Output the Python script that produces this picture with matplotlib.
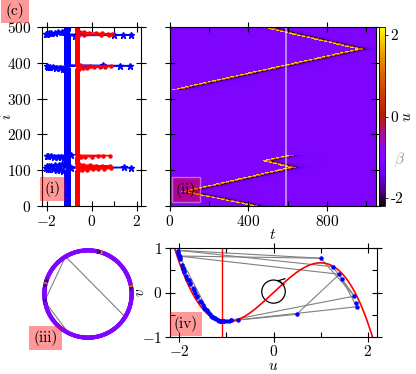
import numpy as np
import matplotlib
matplotlib.use('Agg')
import matplotlib.pyplot as plt
from matplotlib.ticker import MultipleLocator
from matplotlib.collections import LineCollection
from matplotlib.patches import Ellipse

plt.rcParams['mathtext.fontset'] = 'cm'
plt.rcParams['font.family'] = 'serif'
plt.rcParams['font.serif'] = ['cmr10', 'DejaVu Serif']
plt.rcParams['axes.formatter.use_mathtext'] = True
plt.rcParams['font.size'] = 11
plt.rcParams['axes.linewidth'] = 0.8

# ---- data ----
n_osc = 500
u_rest = -1.1
v_rest = -0.65
t_snap = 590

# oscillators away from rest at the snapshot: index, u, v
osc_idx = [476, 477, 478, 479, 480, 481, 482, 483, 484, 485, 486, 487, 488,
           393, 392, 391, 390, 389, 388, 387, 386, 385, 384, 383,
           142, 141, 140, 139, 138, 137, 136, 135,
           109, 108, 107, 106, 105, 104, 103, 102, 101, 100, 99,
           110, 111, 112, 113, 114, 115, 116, 117]
osc_u = [-0.75, 1.77, 1.40, 1.00, -2.03, -1.98, -1.90, -1.78, -1.62, -1.48, -1.33, -1.22, -1.15,
         0.49, 1.72, 1.26, -2.00, -1.95, -1.86, -1.72, -1.57, -1.42, -1.28, -1.18,
         -0.90, -1.99, -1.92, -1.80, -1.66, -1.50, -1.36, -1.24,
         -1.02, 1.45, 1.76, -0.90, -2.02, -1.93, -1.83, -1.70, -1.55, -1.40, -1.26,
         -0.95, -2.00, -1.91, -1.78, -1.62, -1.46, -1.30, -1.19]
osc_v = [-0.61, -0.32, 0.41, 0.77, 0.93, 0.75, 0.45, 0.20, -0.10, -0.35, -0.52, -0.60, -0.64,
         -0.49, -0.08, 0.58, 0.85, 0.62, 0.38, 0.10, -0.18, -0.40, -0.56, -0.62,
         -0.62, 0.80, 0.52, 0.28, 0.00, -0.28, -0.48, -0.58,
         -0.65, 0.30, -0.24, -0.62, 0.88, 0.55, 0.30, 0.05, -0.22, -0.44, -0.58,
         -0.63, 0.83, 0.48, 0.22, -0.08, -0.36, -0.54, -0.62]

# pulse trajectories in the space-time plot: (t0, i0) -> (t1, i1)
pulse_t0 = [0, 458, 40, 40, 466, 466]
pulse_i0 = [324, 500, 42, 38, 126, 126]
pulse_t1 = [950, 950, 420, 600, 590, 600]
pulse_i1 = [438, 438, 0, 107, 141, 108]

# nonlocal links on the ring
link_a = [43, 43, 139]
link_b = [331, 137, 213]

# gray links in the phase plane
seg_u0 = [-2.05, -2.02, -2.05, -2.02, 1.00, 1.26, 1.40, 0.49, -1.05, -1.05, -1.05, -2.00]
seg_v0 = [0.95, 0.82, 0.95, 0.82, 0.77, 0.58, 0.41, -0.49, -0.65, -0.65, -0.65, 0.82]
seg_u1 = [1.00, 1.00, 1.26, 1.40, 1.72, 1.72, 1.77, 1.40, 1.72, 1.77, 0.49, -1.35]
seg_v1 = [0.77, 0.77, 0.58, 0.41, -0.08, -0.08, -0.32, 0.41, -0.08, -0.32, -0.49, -0.50]

# full state at the snapshot
u = np.full(n_osc, u_rest)
v = np.full(n_osc, v_rest)
u[osc_idx] = osc_u
v[osc_idx] = osc_v
idx = np.arange(n_osc)

# space-time field
t_grid = np.arange(0, 1050, 2) + 1.0
field = np.full((n_osc, len(t_grid)), u_rest)
for t0, i0, t1, i1 in zip(pulse_t0, pulse_i0, pulse_t1, pulse_i1):
    for i in range(min(i0, i1), max(i0, i1) + 1):
        tp = t0 + (i - i0) * (t1 - t0) / (i1 - i0)
        row = min(i, n_osc - 1)
        dt = t_grid - tp
        ref = (dt >= 40) & (dt < 200)
        field[row, ref] = np.minimum(field[row, ref], u_rest - 1.1 * np.exp(-(dt[ref] - 40) / 30))
        field[row, (dt >= 18) & (dt < 40)] = 1.0
        field[row, (dt >= 0) & (dt < 18)] = 1.9


def box(l, t, r, b):
    return [l / 416, 1 - b / 374, (r - l) / 416, (b - t) / 374]


def style(ax):
    ax.tick_params(which='major', direction='inout', length=7, width=0.8,
                   top=True, right=True, pad=2)
    ax.tick_params(which='minor', direction='in', length=3.5, width=0.8,
                   top=True, right=True)


fig = plt.figure(figsize=(4.16, 3.74), dpi=100)

# (i) profiles
ax1 = fig.add_axes(box(42, 27, 141, 206))
ax1.plot(u, idx, color='blue', marker='*', ms=5, lw=1)
ax1.plot(v, idx, color='red', marker='o', ms=2.2, lw=1)
ax1.set_xlim(-2.2, 2.2)
ax1.set_ylim(0, 500)
ax1.xaxis.set_major_locator(MultipleLocator(2))
ax1.xaxis.set_minor_locator(MultipleLocator(1))
ax1.yaxis.set_major_locator(MultipleLocator(100))
style(ax1)
ax1.tick_params(axis='y', pad=4)
ax1.set_ylabel('$i$')
ax1.yaxis.set_label_coords(-0.28, 0.5)

# (ii) space-time plot
ax2 = fig.add_axes(box(170, 27, 376, 206))
im = ax2.imshow(field, origin='lower', extent=[0, 1050, 0, 500], aspect='auto',
                cmap='gnuplot', vmin=-2.2, vmax=2.2, interpolation='nearest')
ax2.axvline(t_snap, color='white', alpha=0.6, lw=1.2)
ax2.set_xlim(0, 1050)
ax2.set_ylim(0, 500)
ax2.xaxis.set_major_locator(MultipleLocator(400))
ax2.xaxis.set_minor_locator(MultipleLocator(200))
ax2.yaxis.set_major_locator(MultipleLocator(100))
ax2.set_yticklabels([])
style(ax2)
ax2.set_xlabel('$t$')
ax2.xaxis.set_label_coords(0.5, -0.125)

cax = fig.add_axes(box(379, 27, 385, 206))
cb = fig.colorbar(im, cax=cax, ticks=[-2, 0, 2])
cb.set_ticklabels(['-2', '0', '2'])
cax.tick_params(length=2, width=0.6, pad=2)
cb.outline.set_linewidth(0.6)
cb.set_label('$u$', rotation=90)
cax.yaxis.set_label_coords(3.6, 0.497)
fig.text(399 / 416, 1 - 160 / 374, r'$\beta$', color='#9a9a9a', ha='center', va='center')

# (iii) ring
ax3 = fig.add_axes(box(40, 246, 136, 342))
ang = np.deg2rad(90 + 360 * idx / n_osc)
xr, yr = np.cos(ang), np.sin(ang)
pts = np.column_stack([xr, yr])
segs = np.stack([pts, np.roll(pts, -1, axis=0)], axis=1)
lc = LineCollection(segs, cmap='gnuplot', norm=plt.Normalize(-2.2, 2.2), lw=3.0,
                    capstyle='round')
lc.set_array(u)
for a, b in zip(link_a, link_b):
    ax3.plot([xr[a], xr[b]], [yr[a], yr[b]], color='gray', lw=0.8)
ax3.add_collection(lc)
ax3.set_xlim(-1.1, 1.1)
ax3.set_ylim(-1.1, 1.1)
ax3.axis('off')

# (iv) phase plane
ax4 = fig.add_axes(box(170, 248, 377, 337))
for x0, y0, x1, y1 in zip(seg_u0, seg_v0, seg_u1, seg_v1):
    ax4.plot([x0, x1], [y0, y1], color='gray', lw=0.8)
uu = np.linspace(-2.3, 2.3, 300)
ax4.plot(uu, uu - uu ** 3 / 3, color='red', lw=1.2)
ax4.axvline(u_rest, color='red', lw=1.0)
ax4.plot(u, v, ls='none', marker='o', ms=2.2, color='blue')
ax4.add_patch(Ellipse((0.0, 0.02), 0.5, 0.52, fill=False, ec='black', lw=0.9))
ax4.annotate('', xy=(0.02, 0.28), xytext=(0.14, 0.26),
             arrowprops=dict(arrowstyle='->', lw=0.9, color='black'))
ax4.set_xlim(-2.2, 2.2)
ax4.set_ylim(-1, 1)
ax4.xaxis.set_major_locator(MultipleLocator(2))
ax4.xaxis.set_minor_locator(MultipleLocator(1))
ax4.yaxis.set_major_locator(MultipleLocator(1))
ax4.yaxis.set_minor_locator(MultipleLocator(0.5))
style(ax4)
ax4.tick_params(axis='x', pad=1.5)
ax4.set_xlabel('$u$')
ax4.set_ylabel('$v$')
ax4.xaxis.set_label_coords(0.5, -0.25)
ax4.yaxis.set_label_coords(-0.11, 0.5)

# panel labels
lab = dict(facecolor='red', alpha=0.4, edgecolor='none', pad=3)
fig.text(15 / 416, 1 - 11 / 374, '(c)', ha='center', va='center', bbox=lab)
fig.text(52.5 / 416, 1 - 189 / 374, '(i)', ha='center', va='center', bbox=lab)
fig.text(186 / 416, 1 - 189.5 / 374, '(ii)', ha='center', va='center',
         bbox=dict(facecolor='red', alpha=0.4, edgecolor='white', lw=1, pad=3))
fig.text(45.5 / 416, 1 - 338 / 374, '(iii)', ha='center', va='center', bbox=lab)
fig.text(186 / 416, 1 - 324 / 374, '(iv)', ha='center', va='center', bbox=lab)

fig.savefig('out.png', dpi=100)
